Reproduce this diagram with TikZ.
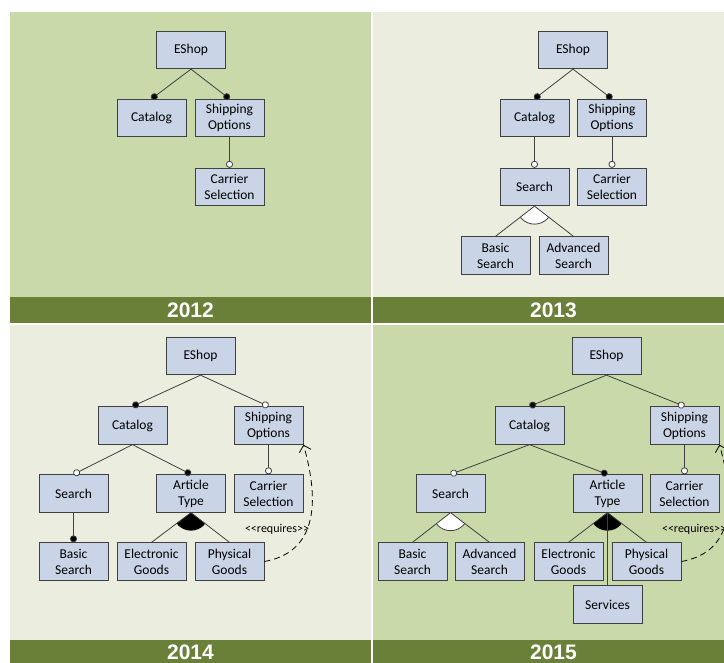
\documentclass[tikz,border=0pt]{standalone}
\usepackage{fontspec}
\setmainfont{Carlito}
\newfontfamily\yearfont{Liberation Sans}
\usetikzlibrary{arrows.meta}

\definecolor{panelgreen}{HTML}{CAD9A9}
\definecolor{panellight}{HTML}{EBEEDE}
\definecolor{banddark}{HTML}{6A7F37}
\definecolor{featfill}{HTML}{C9D5E6}
\definecolor{featline}{HTML}{404040}

\begin{document}
\begin{tikzpicture}[x=1pt, y=-1pt,
        feature/.style={draw=featline, fill=featfill, line width=0.8pt, minimum width=69pt, minimum height=37.5pt, inner sep=0pt, align=center, font=\fontsize{13.5}{16}\selectfont},
        plain/.style={draw=featline, line width=0.8pt},
        mandatory/.style={plain, -{Circle[length=7pt, fill=black]}},
        optional/.style={plain, -{Circle[length=7pt, fill=white]}},
        requires/.style={draw=black, line width=0.8pt, dash pattern=on 6pt off 4pt, -{Straight Barb[length=6pt]}},
        reqlabel/.style={font=\fontsize{12}{12}\selectfont, inner sep=0pt},
        year/.style={text=white, font=\yearfont\fontsize{21}{21}\selectfont\bfseries}]
        \useasboundingbox (0, 0) rectangle (724, 663);
        \fill[panelgreen] (10, 12) rectangle (371, 297);
        \fill[panellight] (373, 12) rectangle (734, 297);
        \fill[panellight] (10, 325) rectangle (371, 640);
        \fill[panelgreen] (373, 325) rectangle (734, 640);
        \fill[banddark] (10, 297) rectangle (371, 323);
        \fill[banddark] (373, 297) rectangle (734, 323);
        \fill[banddark] (10, 640) rectangle (371, 666);
        \fill[banddark] (373, 640) rectangle (734, 666);
        \node[year] (yearA) at (190.5, 310) {2012};
        \node[year] (yearB) at (553.5, 310) {2013};
        \node[year] (yearC) at (190.5, 652) {2014};
        \node[year] (yearD) at (553.5, 652) {2015};

        \node[feature] (eshopA) at (191, 50) {EShop};
        \node[feature] (catalogA) at (151.5, 118) {Catalog};
        \node[feature] (shippingA) at (229.5, 118) {Shipping\\Options};
        \node[feature] (carrierA) at (229.5, 187) {Carrier\\Selection};
        \draw[mandatory] (eshopA.south) -- (catalogA.north);
        \draw[mandatory] (eshopA.south) -- (shippingA.north);
        \draw[optional] (shippingA.south) -- (carrierA.north);

        \node[feature] (eshopB) at (573, 50) {EShop};
        \node[feature] (catalogB) at (534.5, 118) {Catalog};
        \node[feature] (shippingB) at (612, 118) {Shipping\\Options};
        \node[feature] (searchB) at (534.5, 187) {Search};
        \node[feature] (carrierB) at (612, 187) {Carrier\\Selection};
        \node[feature] (basicB) at (495.5, 255.5) {Basic\\Search};
        \node[feature] (advancedB) at (573.5, 255.5) {Advanced\\Search};
        \draw[mandatory] (eshopB.south) -- (catalogB.north);
        \draw[mandatory] (eshopB.south) -- (shippingB.north);
        \draw[optional] (catalogB.south) -- (searchB.north);
        \draw[optional] (shippingB.south) -- (carrierB.north);
        \begin{scope}
            \clip (searchB.south) -- (basicB.north) -- (advancedB.north) -- cycle;
            \draw[plain, fill=white] (searchB.south) circle [radius=18];
        \end{scope}
        \draw[plain] (searchB.south) -- (basicB.north);
        \draw[plain] (searchB.south) -- (advancedB.north);

        \node[feature] (eshopC) at (200.5, 356) {EShop};
        \node[feature] (catalogC) at (132.5, 425.5) {Catalog};
        \node[feature] (shippingC) at (268.5, 425.5) {Shipping\\Options};
        \node[feature] (searchC) at (73.5, 493.5) {Search};
        \node[feature] (articleC) at (191, 493.5) {Article\\Type};
        \node[feature] (carrierC) at (268.5, 493.5) {Carrier\\Selection};
        \node[feature] (basicC) at (73.5, 561.5) {Basic\\Search};
        \node[feature] (electronicC) at (151.5, 561.5) {Electronic\\Goods};
        \node[feature] (physicalC) at (229.5, 561.5) {Physical\\Goods};
        \draw[mandatory] (eshopC.south) -- (catalogC.north);
        \draw[optional] (eshopC.south) -- (shippingC.north);
        \draw[optional] (catalogC.south) -- (searchC.north);
        \draw[mandatory] (catalogC.south) -- (articleC.north);
        \draw[mandatory] (searchC.south) -- (basicC.north);
        \draw[optional] (shippingC.south) -- (carrierC.north);
        \begin{scope}
            \clip (articleC.south) -- (electronicC.north) -- (physicalC.north) -- cycle;
            \fill[black] (articleC.south) circle [radius=18];
        \end{scope}
        \draw[plain] (articleC.south) -- (electronicC.north);
        \draw[plain] (articleC.south) -- (physicalC.north);
        \draw[requires] (physicalC.east) .. controls +(45, -8) and +(20, 70) .. (shippingC.south east);
        \node[reqlabel] (reqC) at (277, 529) {{<}{<}requires{>}{>}};

        \node[feature] (eshopD) at (606.5, 356) {EShop};
        \node[feature] (catalogD) at (529.5, 425.5) {Catalog};
        \node[feature] (shippingD) at (684.5, 425.5) {Shipping\\Options};
        \node[feature] (searchD) at (450.5, 493.5) {Search};
        \node[feature] (articleD) at (607.5, 493.5) {Article\\Type};
        \node[feature] (carrierD) at (684.5, 493.5) {Carrier\\Selection};
        \node[feature] (basicD) at (412.5, 561.5) {Basic\\Search};
        \node[feature] (advancedD) at (489.5, 561.5) {Advanced\\Search};
        \node[feature] (electronicD) at (568.5, 561.5) {Electronic\\Goods};
        \node[feature] (physicalD) at (646.5, 561.5) {Physical\\Goods};
        \node[feature] (servicesD) at (607.5, 604.5) {Services};
        \draw[mandatory] (eshopD.south) -- (catalogD.north);
        \draw[optional] (eshopD.south) -- (shippingD.north);
        \draw[optional] (catalogD.south) -- (searchD.north);
        \draw[mandatory] (catalogD.south) -- (articleD.north);
        \draw[optional] (shippingD.south) -- (carrierD.north);
        \begin{scope}
            \clip (searchD.south) -- (basicD.north) -- (advancedD.north) -- cycle;
            \draw[plain, fill=white] (searchD.south) circle [radius=18];
        \end{scope}
        \draw[plain] (searchD.south) -- (basicD.north);
        \draw[plain] (searchD.south) -- (advancedD.north);
        \begin{scope}
            \clip (articleD.south) -- (electronicD.north) -- (physicalD.north) -- cycle;
            \fill[black] (articleD.south) circle [radius=18];
        \end{scope}
        \draw[plain] (articleD.south) -- (electronicD.north);
        \draw[plain] (articleD.south) -- (physicalD.north);
        \draw[plain] (articleD.south) -- (servicesD.north);
        \draw[requires] (physicalD.east) .. controls +(45, -8) and +(20, 70) .. (shippingD.south east);
        \node[reqlabel] (reqD) at (694, 529) {{<}{<}requires{>}{>}};
    \end{tikzpicture}
\end{document}
